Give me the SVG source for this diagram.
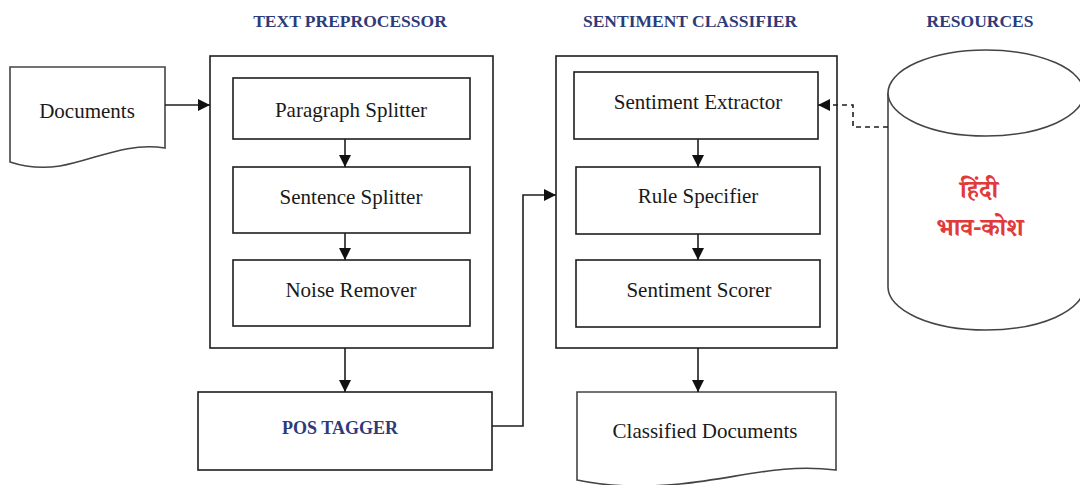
<svg xmlns="http://www.w3.org/2000/svg" width="1080" height="485" viewBox="0 0 1080 485">
<style>
.box{fill:#fff;stroke:#1e1e1e;stroke-width:1.6}
.doc{fill:#fff;stroke:#444;stroke-width:1.6}
.lbl{font-family:"Liberation Serif","Times New Roman",serif;font-size:21px;fill:#1a1a1a;text-anchor:middle}
.hdr{font-family:"Liberation Serif","Times New Roman",serif;font-size:17.5px;font-weight:bold;fill:#2e3b78;text-anchor:middle}
.hindi{font-family:"Noto Serif Devanagari","Noto Sans Devanagari","Noto Sans",sans-serif;font-size:25px;font-weight:bold;fill:#e03a3a;text-anchor:middle}
.con{fill:none;stroke:#1e1e1e;stroke-width:1.6}
</style>
<defs>
<marker id="ah" viewBox="0 0 10 10" refX="10" refY="5" markerWidth="12" markerHeight="12" markerUnits="userSpaceOnUse" orient="auto">
<path d="M0,0 L10,5 L0,10 Z" fill="#111"/>
</marker>
</defs>
<rect width="1080" height="485" fill="#fff"/>
<g id="headers">
<text class="hdr" x="350" y="27">TEXT PREPROCESSOR</text>
<text class="hdr" x="690" y="27">SENTIMENT CLASSIFIER</text>
<text class="hdr" x="980" y="27">RESOURCES</text>
</g>
<g id="documents">
<path class="doc" d="M10,67 H165 V148 C125,142 95,160 60,166 C40,169 22,166 10,162 Z"/>
<text class="lbl" x="87" y="118">Documents</text>
</g>
<g id="text-preprocessor">
<rect class="box" x="210" y="56" width="283" height="292"/>
</g>
<g id="paragraph-splitter">
<rect class="box" x="233" y="78" width="237" height="61"/>
<text class="lbl" x="351" y="117">Paragraph Splitter</text>
</g>
<g id="sentence-splitter">
<rect class="box" x="233" y="167" width="237" height="66"/>
<text class="lbl" x="351" y="204">Sentence Splitter</text>
</g>
<g id="noise-remover">
<rect class="box" x="233" y="260" width="237" height="66"/>
<text class="lbl" x="351" y="297">Noise Remover</text>
</g>
<g id="pos-tagger">
<rect class="box" x="198" y="392" width="294" height="78"/>
<text class="hdr" x="340" y="434" style="font-size:18px">POS TAGGER</text>
</g>
<g id="sentiment-classifier">
<rect class="box" x="556" y="56" width="281" height="292"/>
</g>
<g id="sentiment-extractor">
<rect class="box" x="574" y="72" width="244" height="67"/>
<text class="lbl" x="698" y="109">Sentiment Extractor</text>
</g>
<g id="rule-specifier">
<rect class="box" x="576" y="167" width="244" height="67"/>
<text class="lbl" x="698" y="203">Rule Specifier</text>
</g>
<g id="sentiment-scorer">
<rect class="box" x="576" y="260" width="244" height="67"/>
<text class="lbl" x="699" y="297">Sentiment Scorer</text>
</g>
<g id="classified-documents">
<path class="doc" d="M577,392 H836 V470 C780,463 740,478 680,484 C640,488 605,486 577,480 Z"/>
<text class="lbl" x="705" y="438">Classified Documents</text>
</g>
<g id="resources">
<path class="doc" d="M888,93 V287 A98,43 0 0 0 1084,287 V93"/>
<ellipse class="doc" cx="986" cy="93" rx="98" ry="43"/>
<text class="hindi" x="979" y="198">हिंदी</text>
<text class="hindi" x="980" y="236">भाव-कोश</text>
</g>
<g id="connectors">
<line class="con" x1="165" y1="105" x2="210" y2="105" marker-end="url(#ah)"/>
<line class="con" x1="345" y1="139" x2="345" y2="167" marker-end="url(#ah)"/>
<line class="con" x1="345" y1="233" x2="345" y2="260" marker-end="url(#ah)"/>
<line class="con" x1="345" y1="348" x2="345" y2="392" marker-end="url(#ah)"/>
<polyline class="con" points="492,426 523,426 523,195 556,195" marker-end="url(#ah)"/>
<line class="con" x1="698" y1="139" x2="698" y2="167" marker-end="url(#ah)"/>
<line class="con" x1="698" y1="234" x2="698" y2="260" marker-end="url(#ah)"/>
<line class="con" x1="698" y1="348" x2="698" y2="392" marker-end="url(#ah)"/>
<polyline class="con" points="888,127 853,127 853,105 818,105" stroke-dasharray="5,4" marker-end="url(#ah)"/>
</g>
</svg>
